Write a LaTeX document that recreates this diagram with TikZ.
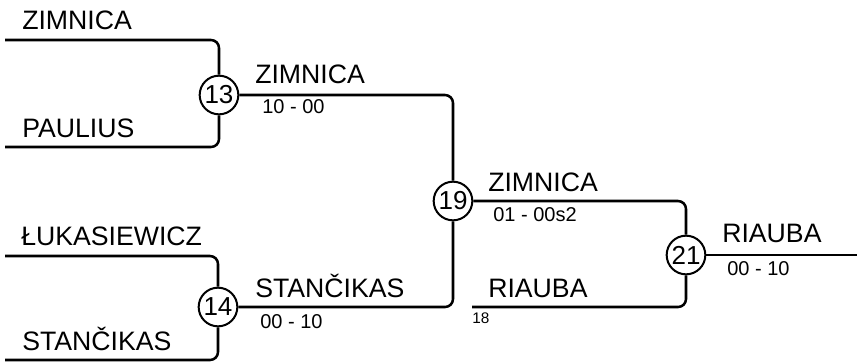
\documentclass[tikz,border=0pt]{standalone}
\usepackage{fontspec}
\setmainfont{Liberation Sans}
\usepackage{tikz}

\begin{document}
\begin{tikzpicture}[x=0.75pt, y=-0.75pt,
    bracket/.style={line width=1.9pt, rounded corners=6pt},
    match/.style={circle, draw, line width=1.5pt, minimum size=29pt, inner sep=0pt, fill=white, font=\fontsize{19.5}{20}\selectfont},
    team/.style={anchor=base west, inner sep=0pt, font=\fontsize{20}{22}\selectfont},
    score/.style={anchor=base west, inner sep=0pt, font=\fontsize{15}{17}\selectfont}]
        \useasboundingbox (0,0) rectangle (857,362);

        % Matches
        \node[match] (m13) at (219,95) {13};
        \node[match] (m14) at (218,307) {14};
        \node[match] (m19) at (453,201) {19};
        \node[match] (m21) at (686,255) {21};

        % Line ends
        \coordinate (p1) at (5,40);
        \coordinate (p2) at (5,147);
        \coordinate (p3) at (5,256);
        \coordinate (p4) at (5,360);
        \coordinate (bye) at (472,307);
        \coordinate (fin) at (857,255);

        % Brackets
        \draw[bracket] (p1) -| (m13.north);
        \draw[bracket] (p2) -| (m13.south);
        \draw[bracket] (p3) -| (m14.north);
        \draw[bracket] (p4) -| (m14.south);
        \draw[bracket] (m13.east) -| (m19.north);
        \draw[bracket] (m14.east) -| (m19.south);
        \draw[bracket] (m19.east) -| (m21.north);
        \draw[bracket] (bye) -| (m21.south);
        \draw[bracket] (m21.east) -- (fin);

        % First round
        \node[team] (t1) at (22,29) {ZIMNICA};
        \node[team] (t2) at (22,137) {PAULIUS};
        \node[team] (t3) at (21,245) {ŁUKASIEWICZ};
        \node[team] (t4) at (22,350) {STANČIKAS};

        % Winners
        \node[team] (w13) at (255,83) {ZIMNICA};
        \node[score] (s13) at (262,113) {10 - 00};
        \node[team] (w14) at (255,297) {STANČIKAS};
        \node[score] (s14) at (260,328) {00 - 10};
        \node[team] (w19) at (488,191) {ZIMNICA};
        \node[score] (s19) at (493,221) {01 - 00s2};
        \node[team] (w18) at (488,297) {RIAUBA};
        \node[score, font=\fontsize{11.5}{13}\selectfont] (s18) at (472,323) {18};
        \node[team] (w21) at (722,242) {RIAUBA};
        \node[score] (s21) at (727,275) {00 - 10};
      \end{tikzpicture}
\end{document}
